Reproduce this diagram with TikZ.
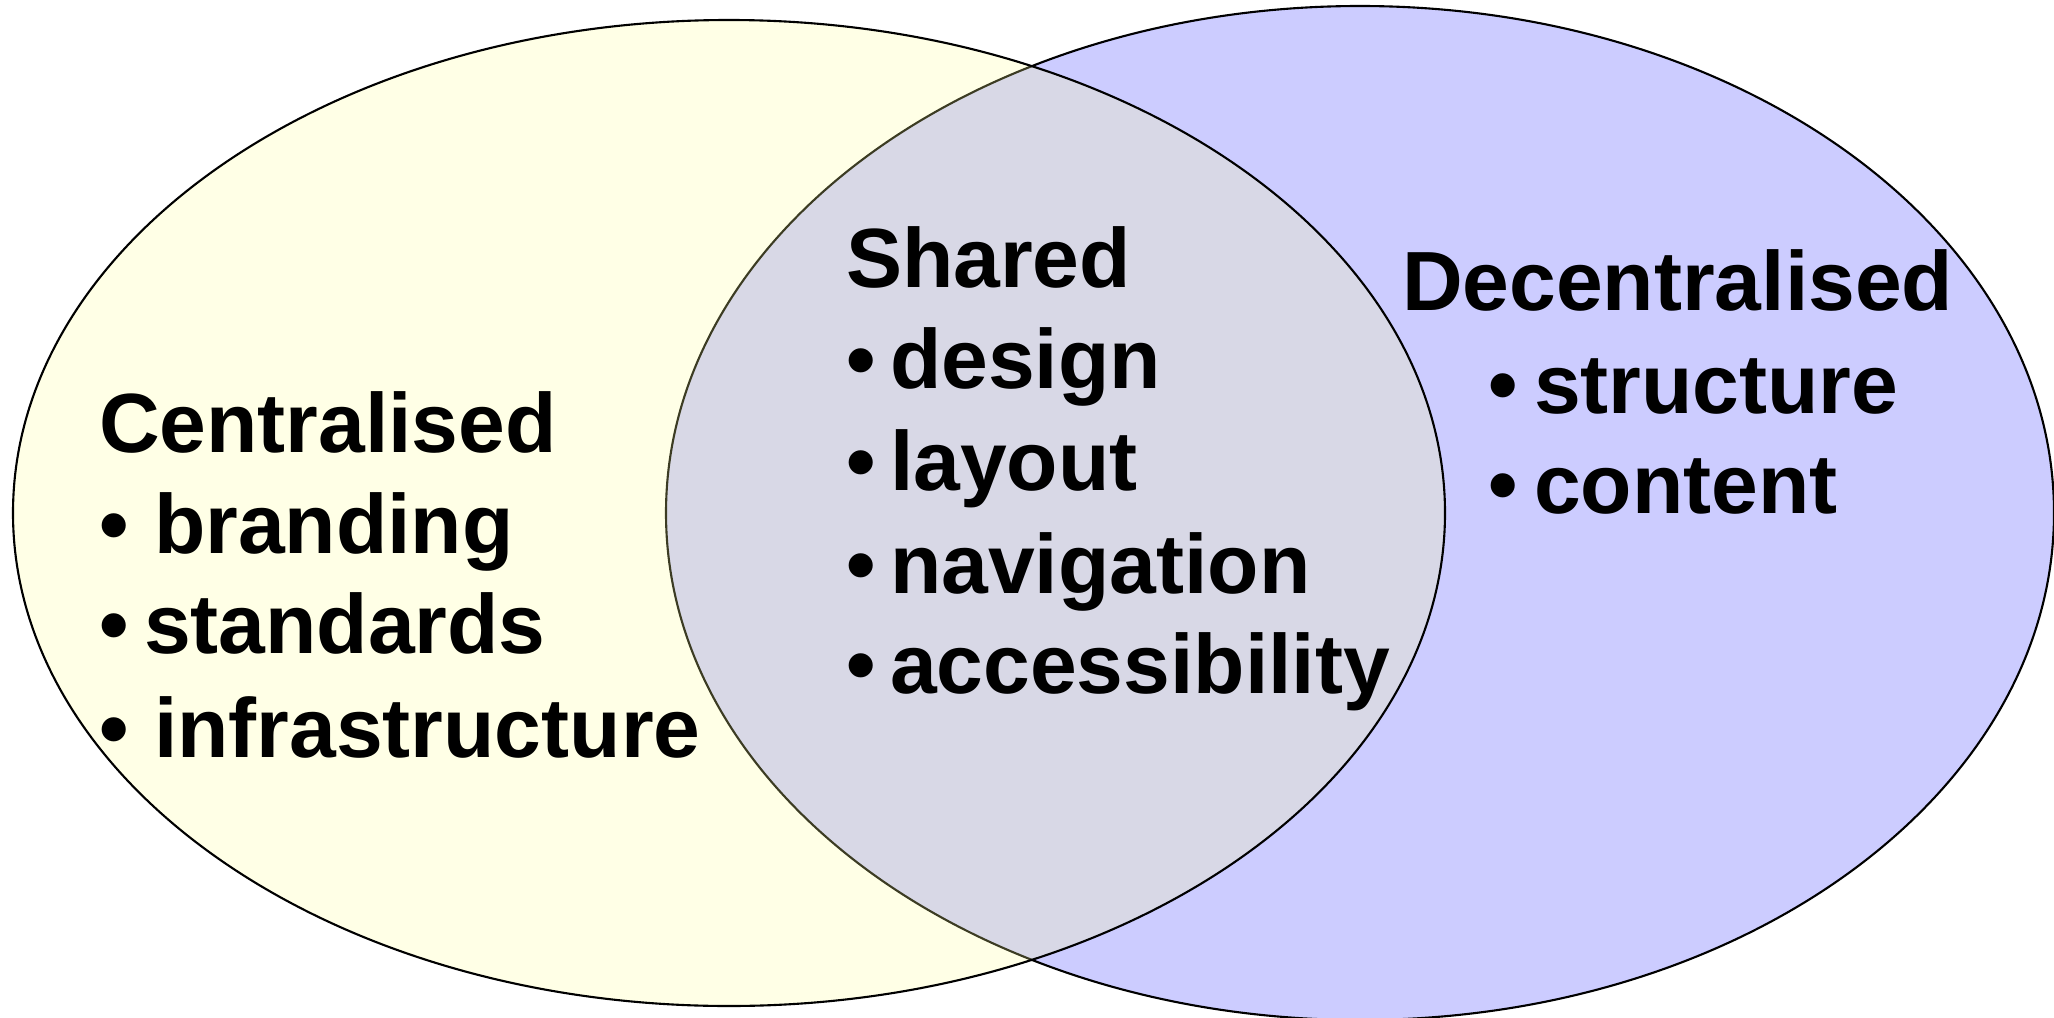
\documentclass[tikz,border=0pt]{standalone}
\usepackage{fontspec}
\setmainfont{Liberation Sans}
\definecolor{lilac}{RGB}{204,204,255}
\definecolor{lemon}{RGB}{255,255,149}
\tikzset{txt/.style={inner sep=0pt, anchor=base west, font=\bfseries\fontsize{23.9}{28}\selectfont}}

\begin{document}
\begin{tikzpicture}[x=0.01cm, y=0.01cm, line width=0.6pt]
\useasboundingbox (0,0) rectangle (2054,-1018);
\coordinate (oc) at (729,-513);
\coordinate (od) at (1360,-513);
\filldraw [fill=lilac] (od) ellipse [x radius=694, y radius=507];
\filldraw [fill=lemon, fill opacity=0.235] (oc) ellipse [x radius=716, y radius=493];

\node [txt] (cen) at (98,-452) {Centralised};
\foreach \w/\tx/\yy [count=\i] in {branding/153/553, standards/143/653, infrastructure/153/757} {
  \node [txt] (cb\i) at (98,-\yy) {\textbullet};
  \node [txt] (cw\i) at (\tx,-\yy) {\w};
}

\node [txt] (sha) at (845,-287) {Shared};
\foreach \w/\yy [count=\i] in {design/388, layout/490, navigation/593, accessibility/693} {
  \node [txt] (sb\i) at (845,-\yy) {\textbullet};
  \node [txt] (sw\i) at (889,-\yy) {\w};
}

\node [txt] (dec) at (1401,-310) {Decentralised};
\foreach \w/\yy [count=\i] in {structure/413, content/513} {
  \node [txt] (db\i) at (1487,-\yy) {\textbullet};
  \node [txt] (dw\i) at (1533,-\yy) {\w};
}
\end{tikzpicture}
\end{document}
